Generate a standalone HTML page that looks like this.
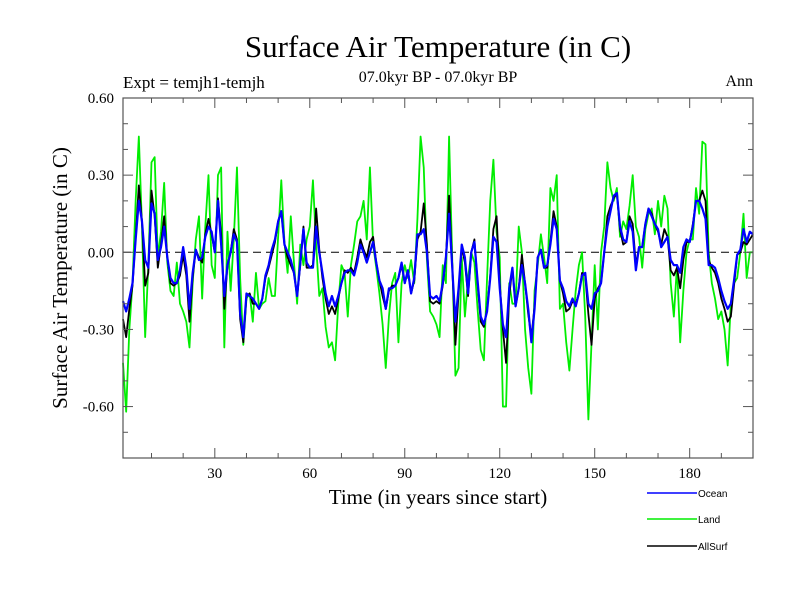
<!DOCTYPE html>
<html><head><meta charset="utf-8"><style>
body{margin:0;background:#fff;}
svg{display:block;font-family:"Liberation Serif",serif;}
</style></head><body>
<svg id="chart" width="800" height="600">
<rect width="800" height="600" fill="#fff"/>
<text x="438" y="57" font-size="31" text-anchor="middle">Surface Air Temperature (in C)</text>
<text x="123" y="88" font-size="17">Expt = temjh1-temjh</text>
<text x="438" y="82" font-size="16" text-anchor="middle">07.0kyr BP - 07.0kyr BP</text>
<text x="753" y="86" font-size="16" text-anchor="end">Ann</text>
<text x="438" y="504" font-size="21" text-anchor="middle">Time (in years since start)</text>
<text transform="translate(67,278) rotate(-90)" font-size="21" text-anchor="middle">Surface Air Temperature (in C)</text>
<g id="plot"></g>
<g font-family="Liberation Sans, sans-serif" font-size="10">
<g><line x1="647" y1="493" x2="697" y2="493" stroke="#0000ff" stroke-width="1.5"/><text x="698" y="497">Ocean</text></g>
<g><line x1="647" y1="519" x2="697" y2="519" stroke="#00ee00" stroke-width="1.5"/><text x="698" y="523">Land</text></g>
<g><line x1="647" y1="546" x2="697" y2="546" stroke="#000" stroke-width="1.5"/><text x="698" y="550">AllSurf</text></g>
</g>
</svg>
<script>
const xTicks=[30,60,90,120,150,180];
const yTicks=[0.6,0.3,0,-0.3,-0.6];
const yTickLabels=["0.60","0.30","0.00","-0.30","-0.60"];
const ocean=[-0.19,-0.23,-0.18,-0.12,0.05,0.20,0.12,-0.03,-0.06,0.19,0.15,-0.03,0.02,0.10,-0.02,-0.10,-0.12,-0.12,-0.07,0.02,-0.06,-0.22,-0.08,0.01,-0.03,-0.02,0.06,0.10,0.08,0.00,0.20,0.03,-0.17,-0.05,0.00,0.07,0.04,-0.24,-0.33,-0.16,-0.17,-0.18,-0.20,-0.22,-0.18,-0.09,-0.05,0.01,0.05,0.12,0.16,0.03,0.00,-0.03,-0.08,-0.17,-0.04,0.09,-0.04,-0.06,-0.06,0.10,0.00,-0.08,-0.16,-0.21,-0.17,-0.21,-0.17,-0.12,-0.08,-0.07,-0.07,-0.09,-0.04,0.03,0.00,-0.04,0.00,0.04,-0.04,-0.11,-0.14,-0.22,-0.14,-0.14,-0.13,-0.10,-0.04,-0.12,-0.07,-0.16,-0.10,0.07,0.07,0.09,0.00,-0.17,-0.18,-0.17,-0.19,-0.12,-0.02,0.15,-0.06,-0.27,-0.14,0.03,-0.02,-0.16,0.00,0.04,-0.11,-0.25,-0.28,-0.23,-0.10,0.06,0.04,-0.14,-0.28,-0.33,-0.14,-0.06,-0.21,-0.14,-0.05,-0.12,-0.22,-0.35,-0.22,-0.02,0.01,-0.06,-0.05,0.03,0.13,0.09,-0.11,-0.14,-0.19,-0.21,-0.18,-0.21,-0.16,-0.09,-0.08,-0.20,-0.22,-0.16,-0.15,-0.12,0.00,0.10,0.16,0.22,0.23,0.10,0.05,0.04,0.12,0.08,-0.07,0.02,0.02,0.11,0.17,0.14,0.11,0.09,0.02,0.04,0.06,-0.03,-0.05,-0.05,-0.08,0.02,0.05,0.04,0.10,0.20,0.20,0.17,0.13,-0.05,-0.05,-0.06,-0.10,-0.15,-0.19,-0.22,-0.20,-0.11,-0.01,0.01,0.09,0.04,0.08,0.07];
const allSurf=[-0.26,-0.33,-0.22,-0.13,0.06,0.26,0.12,-0.13,-0.08,0.24,0.14,-0.06,0.03,0.14,-0.02,-0.12,-0.13,-0.12,-0.09,-0.01,-0.09,-0.27,-0.10,0.01,-0.02,-0.04,0.07,0.13,0.07,0.00,0.21,0.07,-0.22,-0.05,0.00,0.09,0.05,-0.26,-0.35,-0.17,-0.16,-0.20,-0.20,-0.22,-0.18,-0.10,-0.06,-0.01,0.04,0.12,0.16,0.03,-0.02,-0.05,-0.08,-0.17,-0.05,0.10,-0.06,-0.06,-0.05,0.17,0.01,-0.10,-0.18,-0.24,-0.21,-0.24,-0.18,-0.12,-0.07,-0.08,-0.06,-0.08,-0.02,0.05,0.01,-0.02,0.04,0.06,-0.04,-0.11,-0.17,-0.22,-0.15,-0.13,-0.13,-0.10,-0.05,-0.12,-0.07,-0.16,-0.11,0.05,0.08,0.19,0.03,-0.19,-0.20,-0.19,-0.20,-0.13,-0.02,0.22,-0.05,-0.36,-0.16,0.02,-0.04,-0.17,0.00,0.05,-0.12,-0.27,-0.29,-0.22,-0.09,0.09,0.14,-0.12,-0.30,-0.43,-0.17,-0.06,-0.21,-0.14,-0.01,-0.12,-0.24,-0.33,-0.21,-0.02,0.01,-0.06,-0.06,0.04,0.16,0.10,-0.11,-0.16,-0.23,-0.22,-0.19,-0.20,-0.16,-0.08,-0.09,-0.24,-0.36,-0.18,-0.14,-0.12,0.00,0.14,0.18,0.21,0.23,0.09,0.03,0.04,0.14,0.11,-0.05,0.02,0.02,0.11,0.17,0.15,0.11,0.08,0.03,0.09,0.06,-0.07,-0.09,-0.06,-0.14,-0.03,0.04,0.04,0.11,0.20,0.20,0.24,0.20,-0.03,-0.06,-0.08,-0.12,-0.18,-0.22,-0.27,-0.25,-0.13,-0.01,0.00,0.04,0.03,0.05,0.07];
const land=[-0.43,-0.62,-0.30,-0.12,0.20,0.45,0.10,-0.33,-0.05,0.35,0.37,-0.02,0.08,0.27,-0.04,-0.15,-0.17,-0.04,-0.20,-0.23,-0.27,-0.37,-0.12,0.05,0.14,-0.18,0.10,0.30,-0.05,-0.10,0.30,0.33,-0.37,0.08,-0.15,0.05,0.33,-0.10,-0.36,-0.18,-0.16,-0.27,-0.08,-0.22,-0.20,-0.19,-0.10,-0.17,-0.17,0.06,0.28,0.04,-0.08,0.14,-0.04,-0.20,0.03,-0.05,0.05,0.10,0.28,0.03,-0.17,-0.14,-0.29,-0.37,-0.35,-0.42,-0.20,-0.05,-0.08,-0.25,-0.05,0.03,0.12,0.14,0.20,0.05,0.33,0.03,-0.06,-0.16,-0.28,-0.45,-0.25,-0.12,-0.08,-0.35,-0.12,-0.05,-0.10,-0.03,-0.12,0.13,0.45,0.33,-0.03,-0.23,-0.25,-0.28,-0.33,-0.05,-0.12,0.45,-0.03,-0.48,-0.45,-0.02,-0.25,-0.10,0.00,-0.04,-0.22,-0.38,-0.42,-0.10,0.20,0.36,0.08,-0.02,-0.60,-0.60,-0.12,-0.20,-0.20,0.10,0.00,-0.30,-0.45,-0.55,-0.15,-0.05,0.07,-0.02,-0.12,0.25,0.20,0.30,-0.22,-0.20,-0.35,-0.46,-0.30,-0.15,-0.05,0.00,-0.25,-0.65,-0.35,-0.05,-0.30,0.00,0.10,0.35,0.25,0.20,0.25,0.06,0.12,0.09,0.18,0.30,0.10,0.06,-0.06,0.09,0.15,0.17,0.07,0.20,0.10,0.22,0.17,-0.12,-0.25,-0.05,-0.35,-0.15,0.00,0.05,0.05,0.25,0.15,0.43,0.42,0.00,-0.12,-0.18,-0.26,-0.23,-0.30,-0.44,-0.20,-0.12,-0.10,0.00,0.15,-0.10,0.00,0.00];

const NS="http://www.w3.org/2000/svg";
const L=123,R=753,T=98,B=458,X0=1,X1=200,Y0=-0.8,Y1=0.6;
function xs(v){return L+(v-X0)/(X1-X0)*(R-L);}
function ys(v){return B-(v-Y0)/(Y1-Y0)*(B-T);}
const g=document.getElementById('plot');
function mk(tag,attrs){const e=document.createElementNS(NS,tag);for(const k in attrs)e.setAttribute(k,attrs[k]);g.appendChild(e);return e;}

// zero dashed line
const zl=mk('line',{x1:L,x2:R,y1:ys(0),y2:ys(0),stroke:'#000','stroke-width':1,'stroke-dasharray':'8,5'});



function series(arr,color,w,name){
  let d='';
  arr.forEach((v,i)=>{d+=(i?'L':'M')+xs(i+1).toFixed(2)+','+ys(v).toFixed(2);});
  const p=mk('path',{d:d,fill:'none',stroke:color,'stroke-width':w,'stroke-linejoin':'round'});
  
  
}
series(land,'#00ee00',1.8,'land-line');
series(allSurf,'#000000',1.8,'allsurf-line');
series(ocean,'#0000ff',2.2,'ocean-line');

// frame
const fr=mk('rect',{x:L,y:T,width:R-L,height:B-T,fill:'none',stroke:'#555','stroke-width':1.2});



// x ticks
for(let v=10;v<=200;v+=10){
  const major=xTicks.includes(v);const len=major?10:5;
  mk('line',{x1:xs(v),x2:xs(v),y1:B,y2:B-len,stroke:'#555'});
  mk('line',{x1:xs(v),x2:xs(v),y1:T,y2:T+len,stroke:'#555'});
}
xTicks.forEach(v=>{
  const t=mk('text',{x:xs(v),y:B+20,'font-size':15,'text-anchor':'middle'});
  t.textContent=v;
  
  
});
// y ticks
for(let k=-7;k<=6;k++){
  const v=k/10;const major=(k%3===0);const len=major?10:5;
  mk('line',{x1:L,x2:L+len,y1:ys(v),y2:ys(v),stroke:'#555'});
  mk('line',{x1:R,x2:R-len,y1:ys(v),y2:ys(v),stroke:'#555'});
}
yTicks.forEach((v,i)=>{
  const t=mk('text',{x:114,y:ys(v)+5,'font-size':15,'text-anchor':'end'});
  t.textContent=yTickLabels[i];
  
  
});
</script>
</body></html>
